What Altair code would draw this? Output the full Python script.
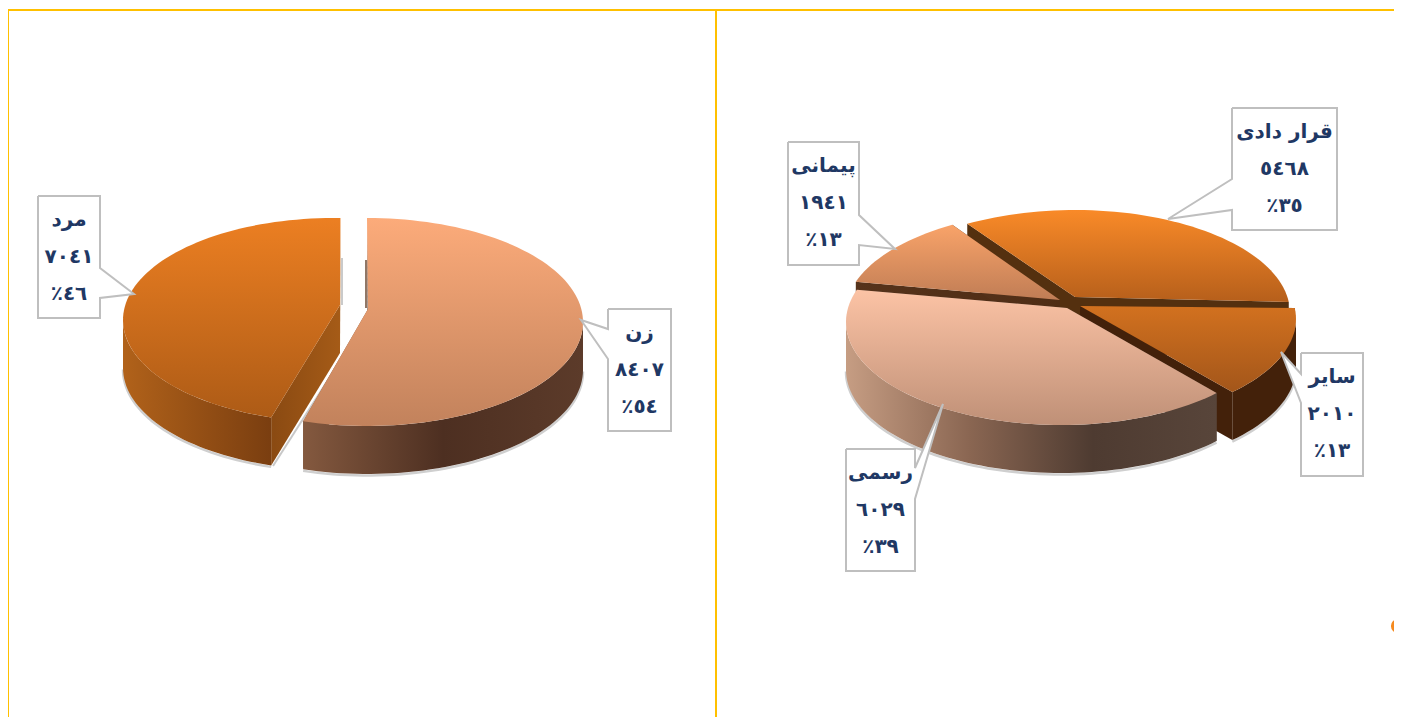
import math
import altair as alt
import pandas as pd

# ---- values ----
LEFT_NAMES = ["زن", "مرد"]
LEFT_VALUES = [8407, 7041]
LEFT_VALUE_TEXT = ["٨٤٠٧", "٧٠٤١"]
LEFT_PCT_TEXT = ["٪٥٤", "٪٤٦"]

RIGHT_NAMES = ["قرار دادی", "سایر", "رسمی", "پیمانی"]
RIGHT_VALUES = [5468, 2010, 6029, 1941]
RIGHT_VALUE_TEXT = ["٥٤٦٨", "٢٠١٠", "٦٠٢٩", "١٩٤١"]
RIGHT_PCT_TEXT = ["٪٣٥", "٪١٣", "٪٣٩", "٪١٣"]

W, H = 1386, 709
Y0 = 8
xs = alt.Scale(domain=[8, 8 + W], range=[0, W])
ys = alt.Scale(domain=[Y0, Y0 + H], range=[0, H])
NAVY = "#1f3864"
GOLD = "#FFC000"


def grad_v(c1, c2):
    return alt.Gradient(gradient="linear", x1=0, x2=0, y1=0, y2=1,
                        stops=[alt.GradientStop(color=c1, offset=0), alt.GradientStop(color=c2, offset=1)])


def grad_h(*cols):
    n = len(cols) - 1
    return alt.Gradient(gradient="linear", x1=0, x2=1, y1=0, y2=0,
                        stops=[alt.GradientStop(color=c, offset=i / n) for i, c in enumerate(cols)])


def poly(points, fill=None, stroke="transparent", sw=0, close=True):
    pts = list(points)
    if close:
        pts = pts + [pts[0]]
    df = pd.DataFrame({"x": [p[0] for p in pts], "y": [p[1] for p in pts], "o": range(len(pts))})
    kw = dict(stroke=stroke, strokeWidth=sw, strokeJoin="miter", clip=False, interpolate="linear")
    if fill is not None:
        kw["fill"] = fill
    return alt.Chart(df).mark_line(**kw).encode(
        x=alt.X("x:Q", scale=xs, axis=None),
        y=alt.Y("y:Q", scale=ys, axis=None),
        order="o:Q",
    )


def warp(t, k):
    return t - k * math.degrees(1) * math.sin(math.radians(t))


def slice_layers(cx, cy, a, b, ax, ay, t1, t2, depth, top, arc_fill, cut1, cut2, shadow=True):
    def P(t):
        r = math.radians(t)
        return (cx + a * math.sin(r), cy - b * math.cos(r))

    n = max(2, int(abs(t2 - t1) / 2))
    arc = [P(t1 + (t2 - t1) * i / n) for i in range(n + 1)]
    out = []
    # the two cut walls
    out.append(poly([(ax, ay), P(t1), (P(t1)[0], P(t1)[1] + depth), (ax, ay + depth)], fill=cut1))
    out.append(poly([(ax, ay), P(t2), (P(t2)[0], P(t2)[1] + depth), (ax, ay + depth)], fill=cut2))
    # outer wall, only the part of the rim that faces the viewer
    lo, hi = max(t1, 90), min(t2, 270)
    if hi > lo:
        m = max(2, int((hi - lo) / 2))
        rim = [P(lo + (hi - lo) * i / m) for i in range(m + 1)]
        low = [(x, y + depth) for x, y in rim]
        if shadow:
            out.append(poly([(x, y + 1.5) for x, y in low], stroke="#cfcfcf", sw=2.5, close=False))
        out.append(poly(rim + low[::-1], fill=arc_fill))
    # top face
    out.append(poly([(ax, ay)] + arc, fill=top))
    return out


def callout(x0, x1, y0, y1, pointer, name, val, pct):
    tx = (x0 + x1) / 2
    (px1, py1), (tipx, tipy), (px2, py2) = pointer
    if px1 == x1:
        pts = [(x0, y0), (x1, y0), (px1, py1), (tipx, tipy), (px2, py2), (x1, y1), (x0, y1)]
    else:
        pts = [(x0, y0), (x1, y0), (x1, y1), (x0, y1), (px2, py2), (tipx, tipy), (px1, py1)]
    layers = [poly(pts, fill="white", stroke="#bfbfbf", sw=2)]
    df = pd.DataFrame({"x": [tx] * 3, "y": [y0 + 24, y0 + 61, y0 + 98], "t": [name, val, pct]})
    layers.append(alt.Chart(df).mark_text(font="DejaVu Sans", fontWeight="bold", fontSize=20, color=NAVY,
                                          align="center", baseline="middle").encode(
        x=alt.X("x:Q", scale=xs, axis=None), y=alt.Y("y:Q", scale=ys, axis=None), text="t:N"))
    return layers


layers = []

# frame
layers.append(poly([(8, 717), (8, 10), (1402, 10)], stroke=GOLD, sw=2, close=False))
layers.append(poly([(716, 10), (716, 717)], stroke=GOLD, sw=2, close=False))

DEPTH = 48

# ---- left pie ----
ltot = sum(LEFT_VALUES)
kL = 0.05
woman_sweep = LEFT_VALUES[0] / ltot * 360
man_sweep = LEFT_VALUES[1] / ltot * 360
# soft edges seen in the gap between the two slices
layers.append(poly([(342, 258), (342, 305)], stroke="#b8b8b8", sw=1.5, close=False))
layers.append(poly([(366, 260), (366, 308)], stroke="#6b4a35", sw=1.5, close=False))
layers.append(poly([(273, 466), (342, 358)], stroke="#c8c8c8", sw=2, close=False))
layers += slice_layers(334, 320, 211, 102, 340, 305, warp(196.5, kL), warp(196.5 + man_sweep, kL) + 1.2, DEPTH,
                       grad_v("#ec7f22", "#ad5b16"),
                       grad_h("#b1621a", "#7a3e10"),
                       grad_h("#8a4a12", "#a55b17"), grad_h("#8a4a12", "#a55b17"))
layers += slice_layers(367, 322, 216, 104, 368, 309, warp(0, kL), warp(woman_sweep, kL) + 0.5, DEPTH,
                       grad_v("#fcab7a", "#c2825c"),
                       grad_h("#84593f", "#4d2f21", "#5c3b2a"),
                       grad_h("#5c3b2a", "#5c3b2a"), grad_h("#84593f", "#84593f"))

# ---- right pie ----
rtot = sum(RIGHT_VALUES)
kR = 0.15
start = -35.0
edges = [start]
for v in RIGHT_VALUES:
    edges.append(edges[-1] + v / rtot * 360)
th = [warp(e, kR) for e in edges]

# contract
band = grad_h("#54300f", "#54300f")
layers += slice_layers(1075, 313, 215, 103, 1075, 297, th[0], th[1], DEPTH,
                       grad_v("#f98a28", "#b65f1b"), band, band, band)
# other
dark = grad_h("#43210a", "#43210a")
layers += slice_layers(1080, 319, 216, 103, 1080, 306, th[1], th[2] + 1.5, DEPTH,
                       grad_v("#d2711f", "#a3561a"), dark, dark, dark)
# paymani
pb = grad_h("#56331b", "#4e2c14")
layers += slice_layers(1060, 314, 215, 103, 1060, 300, th[3] - 360, th[4] - 360, DEPTH,
                       grad_v("#f9a369", "#c07d55"), pb, pb, pb)
# official
layers += slice_layers(1061, 322, 215, 103, 1067, 308, th[2], th[3], DEPTH,
                       grad_v("#fcc3a5", "#bf9077"),
                       grad_h("#c69d83", "#8a6652", "#4e3b31", "#58453a"),
                       grad_h("#58453a", "#58453a"), grad_h("#58453a", "#58453a"))

# ---- call-outs ----
layers += callout(38, 100, 196, 318, [(100, 268), (134, 294), (100, 298)], LEFT_NAMES[1], LEFT_VALUE_TEXT[1], LEFT_PCT_TEXT[1])
layers += callout(608, 671, 309, 431, [(608, 329), (581, 320), (608, 359)], LEFT_NAMES[0], LEFT_VALUE_TEXT[0], LEFT_PCT_TEXT[0])
layers += callout(1232, 1337, 108, 230, [(1232, 179), (1168, 219), (1232, 210)], RIGHT_NAMES[0], RIGHT_VALUE_TEXT[0], RIGHT_PCT_TEXT[0])
layers += callout(1301, 1363, 353, 476, [(1301, 374), (1281, 352), (1301, 403)], RIGHT_NAMES[1], RIGHT_VALUE_TEXT[1], RIGHT_PCT_TEXT[1])
layers += callout(846, 915, 449, 571, [(915, 468), (943, 404), (915, 499)], RIGHT_NAMES[2], RIGHT_VALUE_TEXT[2], RIGHT_PCT_TEXT[2])
layers += callout(788, 859, 142, 265, [(859, 215), (895, 249), (859, 245)], RIGHT_NAMES[3], RIGHT_VALUE_TEXT[3], RIGHT_PCT_TEXT[3])

# small orange marker at the right edge
dot = alt.Chart(pd.DataFrame({"x": [1398], "y": [626]})).mark_point(
    filled=True, size=200, color="#f58a1f", opacity=1, clip=False).encode(
    x=alt.X("x:Q", scale=xs, axis=None), y=alt.Y("y:Q", scale=ys, axis=None))
layers.append(dot)

chart = alt.layer(*layers).properties(
    width=W, height=H, padding=0, autosize=alt.AutoSizeParams(type="none"), background="white"
).configure_view(stroke=None)

chart.save("out.html", embed_options={"renderer": "svg", "actions": False})
